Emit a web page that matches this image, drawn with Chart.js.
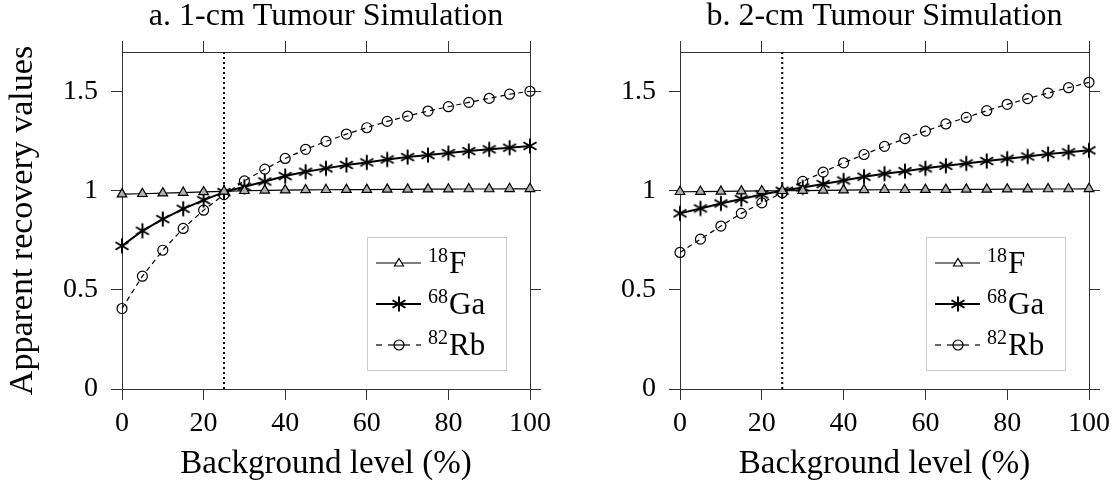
<!DOCTYPE html>
<html>
<head>
<meta charset="utf-8">
<script src="https://cdn.jsdelivr.net/npm/chart.js@4.4.0/dist/chart.umd.min.js"></script>
<style>
  body { margin: 0; background: #fff; }
  #wrap { position: relative; width: 1117px; height: 491px; }
  .panel { position: absolute; top: 0; }
</style>
</head>
<body>
<div id="wrap">
  <canvas id="chartA" class="panel" style="left:0" width="558" height="491"></canvas>
  <canvas id="chartB" class="panel" style="left:558px" width="559" height="491"></canvas>
</div>
<script>
const backgroundLevels = [0, 5, 10, 15, 20, 25, 30, 35, 40, 45, 50, 55, 60, 65, 70, 75, 80, 85, 90, 95, 100];
const xTicks = [0, 20, 40, 60, 80, 100];
const yTicks = [0, 0.5, 1, 1.5];
const yTickLabels = ['0', '0.5', '1', '1.5'];
const yMax = 1.7;
const cutoffLevel = 25;

const isotopeMass = ['18', '68', '82'];
const isotopeSymbol = ['F', 'Ga', 'Rb'];

// a. 1-cm tumour
const f18_1cm = [0.983, 0.985, 0.988, 0.991, 0.994, 0.997, 1.0, 1.002, 1.003, 1.004, 1.005, 1.006, 1.006, 1.007, 1.007, 1.008, 1.008, 1.009, 1.009, 1.01, 1.01];
const ga68_1cm = [0.722, 0.798, 0.857, 0.909, 0.953, 0.993, 1.02, 1.047, 1.074, 1.096, 1.113, 1.13, 1.143, 1.158, 1.17, 1.18, 1.19, 1.2, 1.209, 1.217, 1.226];
const rb82_1cm = [0.406, 0.569, 0.70, 0.81, 0.902, 0.981, 1.05, 1.109, 1.163, 1.209, 1.249, 1.286, 1.318, 1.35, 1.377, 1.402, 1.424, 1.446, 1.466, 1.487, 1.502];

// b. 2-cm tumour
const f18_2cm = [0.995, 0.996, 0.997, 0.998, 0.999, 1.0, 1.001, 1.002, 1.003, 1.004, 1.005, 1.005, 1.006, 1.006, 1.007, 1.007, 1.008, 1.008, 1.009, 1.009, 1.01];
const ga68_2cm = [0.886, 0.911, 0.936, 0.958, 0.981, 1.0, 1.017, 1.034, 1.052, 1.071, 1.086, 1.099, 1.113, 1.126, 1.138, 1.15, 1.162, 1.173, 1.185, 1.194, 1.204];
const rb82_2cm = [0.689, 0.756, 0.822, 0.886, 0.939, 0.99, 1.047, 1.094, 1.141, 1.183, 1.224, 1.263, 1.301, 1.337, 1.37, 1.404, 1.436, 1.465, 1.493, 1.52, 1.547];

const serif = "'Liberation Serif', 'DejaVu Serif', serif";
const axisColor = '#333';

// 6-armed asterisk like the pgfplots marker
function makeStar(r, lw) {
    const c = document.createElement('canvas');
    const s = 2 * Math.ceil(r + lw);
    c.width = s; c.height = s;
    const g = c.getContext('2d');
    g.strokeStyle = '#000';
    g.lineWidth = lw;
    g.translate(s / 2, s / 2);
    for (let k = 0; k < 3; k++) {
        const a = Math.PI / 2 + k * Math.PI / 3;
        g.beginPath();
        g.moveTo(r * Math.cos(a), r * Math.sin(a));
        g.lineTo(-r * Math.cos(a), -r * Math.sin(a));
        g.stroke();
    }
    return c;
}
const starMark = makeStar(7.5, 2);

function toPoints(values) {
    return backgroundLevels.map((x, i) => ({ x: x, y: values[i] }));
}

// legend with superscript mass numbers, drawn in the lower right of the plot
const isotopeLegend = {
    id: 'isotopeLegend',
    afterDraw(chart) {
        const { ctx, chartArea } = chart;
        const w = 139, h = 133;
        const x0 = chartArea.right - 24 - w;
        const y0 = chartArea.bottom - 19 - h;
        ctx.save();
        ctx.fillStyle = '#fff';
        ctx.fillRect(x0, y0, w, h);
        ctx.strokeStyle = '#ccc';
        ctx.lineWidth = 1;
        ctx.strokeRect(x0 + 0.5, y0 + 0.5, w, h);

        for (let i = 0; i < isotopeSymbol.length; i++) {
            const cy = y0 + 26 + i * 41;
            const mx = x0 + 32;
            ctx.strokeStyle = '#000';
            if (i === 0) {
                ctx.lineWidth = 1.2;
                ctx.beginPath(); ctx.moveTo(x0 + 9, cy); ctx.lineTo(x0 + 54, cy); ctx.stroke();
                ctx.beginPath();
                ctx.moveTo(mx, cy - 4.5); ctx.lineTo(mx + 4.5, cy + 3); ctx.lineTo(mx - 4.5, cy + 3); ctx.closePath();
                ctx.fillStyle = '#fff'; ctx.fill(); ctx.stroke();
            } else if (i === 1) {
                ctx.lineWidth = 2;
                ctx.beginPath(); ctx.moveTo(x0 + 9, cy); ctx.lineTo(x0 + 54, cy); ctx.stroke();
                ctx.drawImage(starMark, mx - starMark.width / 2, cy - starMark.height / 2);
            } else {
                ctx.lineWidth = 1.2;
                ctx.beginPath(); ctx.moveTo(x0 + 9, cy); ctx.lineTo(x0 + 15, cy); ctx.stroke();
                ctx.beginPath(); ctx.moveTo(x0 + 21, cy); ctx.lineTo(x0 + 43, cy); ctx.stroke();
                ctx.beginPath(); ctx.moveTo(x0 + 49, cy); ctx.lineTo(x0 + 54, cy); ctx.stroke();
                ctx.beginPath(); ctx.arc(mx, cy, 5, 0, Math.PI * 2); ctx.stroke();
            }
            ctx.fillStyle = '#000';
            ctx.textBaseline = 'alphabetic';
            ctx.textAlign = 'left';
            ctx.font = '20px ' + serif;
            ctx.fillText(isotopeMass[i], x0 + 61, cy - 1);
            const sw = ctx.measureText(isotopeMass[i]).width;
            ctx.font = '31px ' + serif;
            ctx.fillText(isotopeSymbol[i], x0 + 62 + sw, cy + 10);
        }
        ctx.restore();
    }
};

function buildChart(canvasId, titleText, fData, gaData, rbData, showYTitle) {
    const tickFont = { family: serif, size: 28 };
    const hiddenAxis = (axis, position, size, min, max, ticks) => ({
        type: 'linear', axis: axis, position: position, min: min, max: max,
        afterBuildTicks: s => { s.ticks = ticks.map(v => ({ value: v })); },
        afterFit: s => { if (axis === 'x') s.height = size; else s.width = size; },
        grid: { drawOnChartArea: false, tickLength: 11, color: axisColor },
        border: { color: axisColor, width: 1 },
        ticks: { display: false }
    });

    return new Chart(document.getElementById(canvasId), {
        type: 'line',
        data: {
            datasets: [
                {
                    label: isotopeMass[0] + isotopeSymbol[0],
                    data: toPoints(fData),
                    xAxisID: 'x', yAxisID: 'y',
                    borderColor: '#000', borderWidth: 1.2,
                    pointStyle: 'triangle', pointRadius: 5.5,
                    pointBackgroundColor: '#b0b0b0', pointBorderColor: '#000', pointBorderWidth: 1.2,
                    clip: false
                },
                {
                    label: isotopeMass[1] + isotopeSymbol[1],
                    data: toPoints(gaData),
                    xAxisID: 'x', yAxisID: 'y',
                    borderColor: '#000', borderWidth: 2,
                    pointStyle: starMark, pointRadius: 8,
                    clip: false
                },
                {
                    label: isotopeMass[2] + isotopeSymbol[2],
                    data: toPoints(rbData),
                    xAxisID: 'x', yAxisID: 'y',
                    borderColor: '#000', borderWidth: 1.2, borderDash: [5, 4],
                    pointStyle: 'circle', pointRadius: 5,
                    pointBackgroundColor: 'rgba(0,0,0,0)', pointBorderColor: '#000', pointBorderWidth: 1.2,
                    clip: false
                },
                {
                    label: 'cutoff',
                    data: [{ x: cutoffLevel, y: 0 }, { x: cutoffLevel, y: yMax }],
                    xAxisID: 'x', yAxisID: 'y',
                    borderColor: '#000', borderWidth: 2, borderDash: [2, 3],
                    pointRadius: 0
                }
            ]
        },
        options: {
            responsive: false,
            animation: false,
            events: [],
            layout: { padding: { left: 0, right: 15, top: 0, bottom: 0 } },
            scales: {
                x: {
                    type: 'linear', position: 'bottom', min: 0, max: 100,
                    afterBuildTicks: s => { s.ticks = xTicks.map(v => ({ value: v })); },
                    afterFit: s => { s.height = 102; },
                    grid: { drawOnChartArea: false, tickLength: 11, color: axisColor },
                    border: { color: axisColor, width: 1 },
                    ticks: { color: '#000', font: tickFont, padding: 7, maxRotation: 0, autoSkip: false },
                    title: { display: true, text: 'Background level (%)', color: '#000', font: { family: serif, size: 33, lineHeight: 1 }, padding: { top: 0, bottom: 10 } }
                },
                xTop: hiddenAxis('x', 'top', 11, 0, 100, xTicks),
                y: {
                    type: 'linear', position: 'left', min: 0, max: yMax,
                    afterBuildTicks: s => { s.ticks = yTicks.map(v => ({ value: v })); },
                    afterFit: s => { s.width = 122; },
                    grid: { drawOnChartArea: false, tickLength: 11, color: axisColor },
                    border: { color: axisColor, width: 1 },
                    ticks: { color: '#000', font: tickFont, padding: 13, callback: v => yTickLabels[yTicks.indexOf(v)] },
                    title: { display: showYTitle, text: 'Apparent recovery values', color: '#000', font: { family: serif, size: 34, lineHeight: 1 }, padding: { top: 6, bottom: 0 } }
                },
                yRight: hiddenAxis('y', 'right', 11, 0, yMax, yTicks)
            },
            plugins: {
                legend: { display: false },
                tooltip: { enabled: false },
                title: {
                    display: true, text: titleText, color: '#000', fullSize: false,
                    font: { family: serif, size: 32, weight: 'normal', lineHeight: 1 },
                    padding: { top: 1, bottom: 8 }
                }
            }
        },
        plugins: [isotopeLegend]
    });
}

buildChart('chartA', 'a. 1-cm Tumour Simulation', f18_1cm, ga68_1cm, rb82_1cm, true);
buildChart('chartB', 'b. 2-cm Tumour Simulation', f18_2cm, ga68_2cm, rb82_2cm, false);
</script>
</body>
</html>
